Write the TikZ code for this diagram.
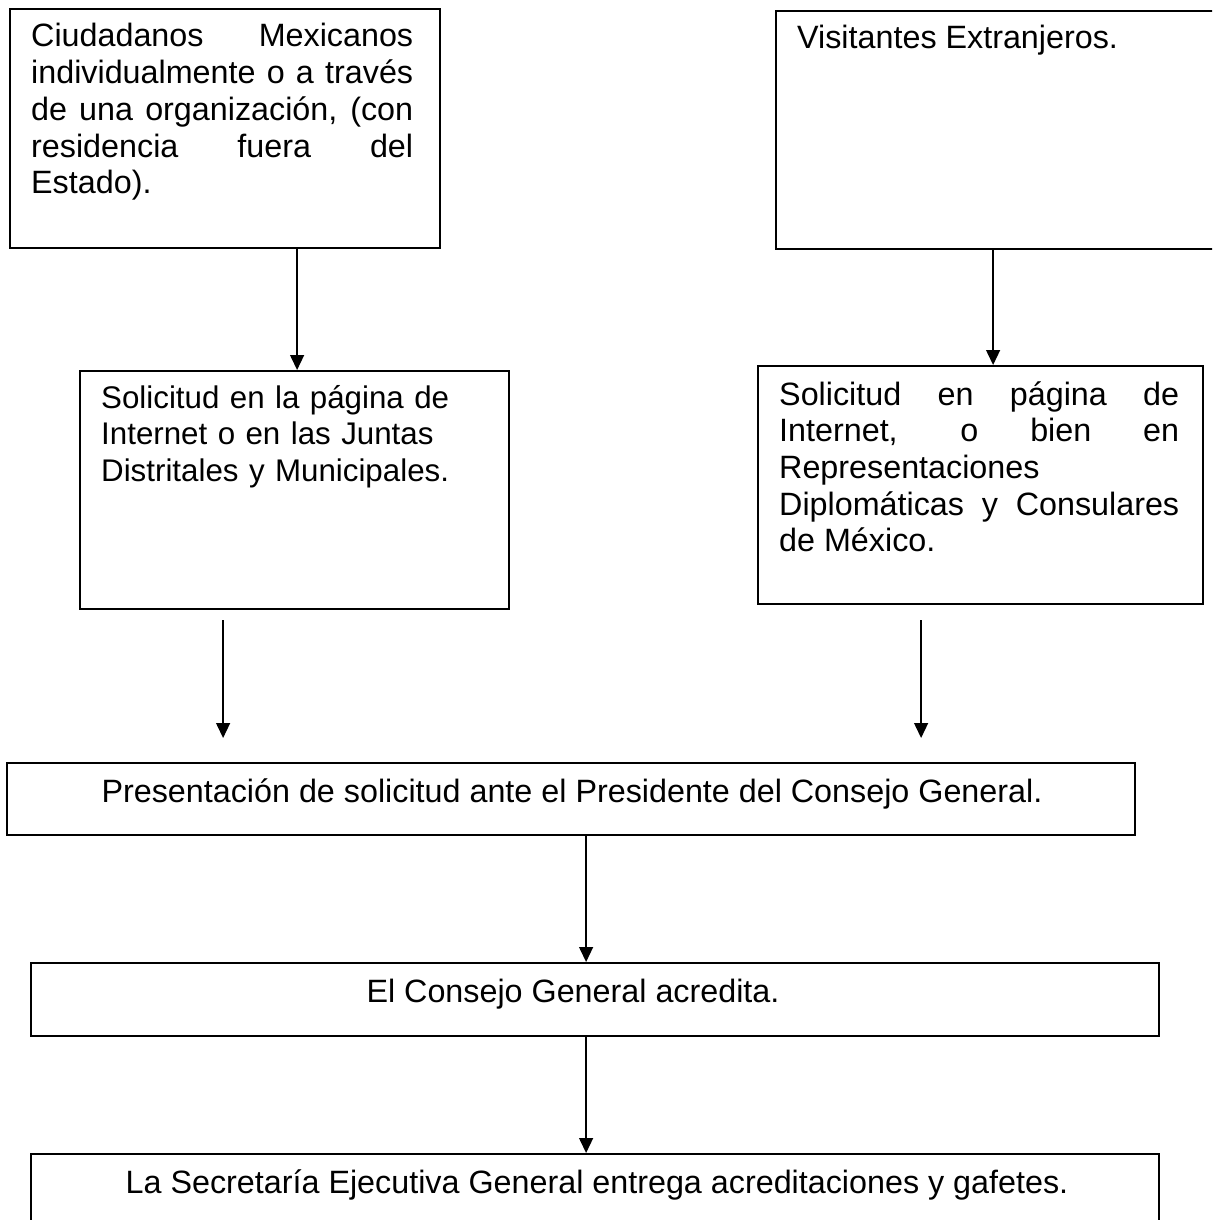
\documentclass[tikz,border=0pt]{standalone}
\usepackage{fontspec}
\setmainfont{Liberation Sans}
\usetikzlibrary{arrows.meta}

\tikzset{
  caja/.style={draw, line width=2.2pt, anchor=north west, inner sep=0pt},
  texto/.style={inner sep=0pt, anchor=base west,
    font=\fontsize{32.3}{36.7}\selectfont},
  flecha/.style={line width=1.3pt, -{Triangle[length=15pt, width=14pt]}}
}

\begin{document}
\begin{tikzpicture}[x=1pt, y=-1pt]
        \useasboundingbox (0, 0) rectangle (1212, 1220);
        \clip (0, 0) rectangle (1212, 1220);
        \hyphenpenalty=10000 \exhyphenpenalty=10000

        % cajas de arriba
        \node[caja, minimum width=430pt, minimum height=239pt] (ciud) at (9, 8) {};
        \node[caja, minimum width=500pt, minimum height=238pt] (visit) at (775, 10) {};
        \node[texto, text width=382pt, align=justify] (ciudtxt) at (31, 47)
            {Ciudadanos Mexicanos\linebreak individualmente o a través\linebreak
             de una organización, (con\linebreak residencia fuera del\linebreak Estado).};
        \node[texto] (visittxt) at (797, 49) {Visitantes Extranjeros.};

        % solicitudes
        \node[caja, minimum width=429pt, minimum height=238pt] (solint) at (79, 370) {};
        \node[caja, minimum width=445pt, minimum height=238pt] (solext) at (757, 365) {};
        \node[texto, text width=400pt, align=left, font=\fontsize{31.3}{36.8}\selectfont]
            (solinttxt) at (101, 408)
            {Solicitud en la página de\\ Internet o en las Juntas\\ Distritales y Municipales.};
        \node[texto, text width=400pt, align=justify] (solexttxt) at (779, 405)
            {Solicitud en página de\linebreak Internet, o bien en\linebreak
             Representaciones\\ Diplomáticas y Consulares\linebreak de México.};

        % cajas de abajo
        \node[caja, minimum width=1128pt, minimum height=72pt] (pres) at (6, 762) {};
        \node[caja, minimum width=1128pt, minimum height=73pt] (acred) at (30, 962) {};
        \node[caja, minimum width=1128pt, minimum height=150pt] (entrega) at (30, 1153) {};
        \node[texto, anchor=base] (prestxt) at (572, 802)
            {Presentación de solicitud ante el Presidente del Consejo General.};
        \node[texto, anchor=base] (acredtxt) at (573, 1002) {El Consejo General acredita.};
        \node[texto, anchor=base] (entregatxt) at (597, 1193)
            {La Secretaría Ejecutiva General entrega acreditaciones y gafetes.};

        % flechas
        \draw[flecha] ([xshift=2.5pt]solint.north |- ciud.south) -- ([xshift=2.5pt]solint.north);
        \draw[flecha] ([xshift=12.5pt]solext.north |- visit.south) -- ([xshift=12.5pt]solext.north);
        \draw[flecha, shorten <=10pt, shorten >=24pt]
            ([xshift=-71.5pt]solint.south) -- ([xshift=-71.5pt]solint.south |- pres.north);
        \draw[flecha, shorten <=15pt, shorten >=24pt]
            ([xshift=-59.5pt]solext.south) -- ([xshift=-59.5pt]solext.south |- pres.north);
        \draw[flecha] ([xshift=15pt]pres.south) -- ([xshift=15pt]pres.south |- acred.north);
        \draw[flecha] ([xshift=-9pt]acred.south) -- ([xshift=-9pt]acred.south |- entrega.north);
\end{tikzpicture}
\end{document}
